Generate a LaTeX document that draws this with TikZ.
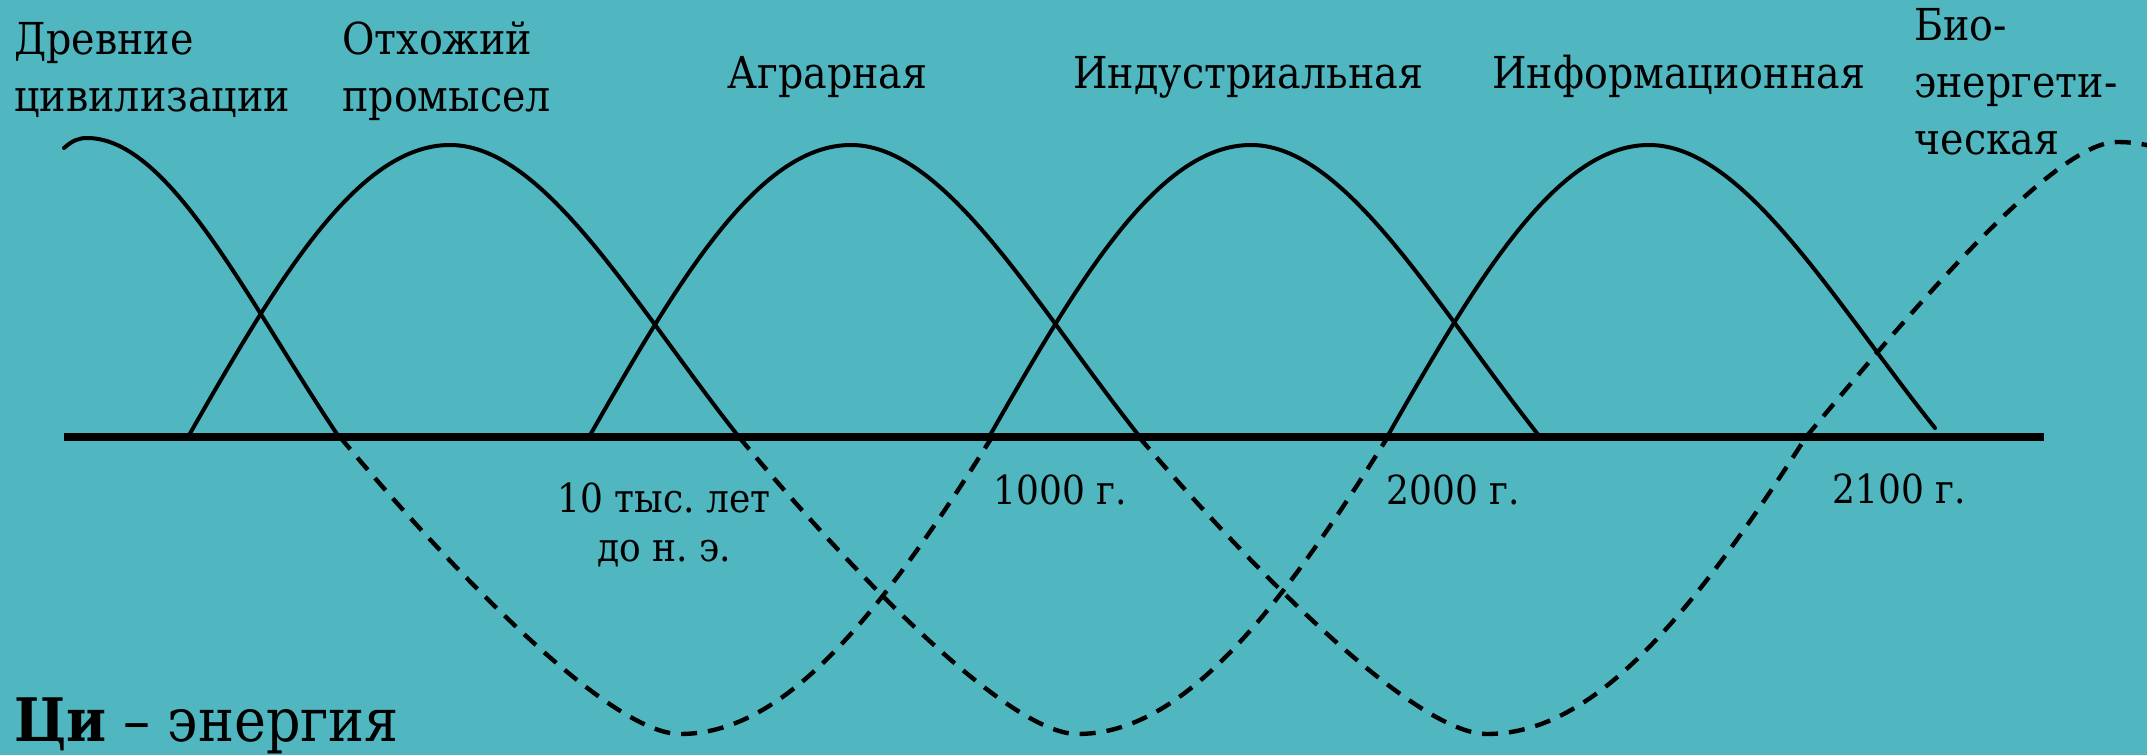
\documentclass[tikz,border=0pt]{standalone}
\usepackage{fontspec}
\setmainfont{DejaVu Serif Condensed}
\frenchspacing
\definecolor{bgteal}{RGB}{80,182,191}
\tikzset{
  hump/.style={line width=2pt, line cap=round, line join=round},
  trough/.style={line width=2.2pt, dash pattern=on 8pt off 5.5pt},
  axisline/.style={line width=4pt},
  toplabel/.style={anchor=base west, inner sep=0pt, font=\fontsize{22}{28.5}\selectfont},
  datelabel/.style={anchor=base west, inner sep=0pt, font=\fontsize{20}{25}\selectfont},
}
% solid hump: rises over 262, peak 292, falls over 289
\newcommand{\humpat}[1]{%
  \draw[hump, shift={(#1,0)}] (0,0) .. controls (87.5,153) and (168,292) .. (262,292)
     .. controls (357,292) and (447,131) .. (551,0);}
% dashed trough: falls over 340, depth 297, rises over 312
\newcommand{\troughat}[2]{%
  \draw[trough, shift={(#1,0)}, xscale=#2] (0,0) .. controls (110,-132) and (270,-297) .. (340,-297)
     .. controls (440,-297) and (532,-192) .. (652,0);}
\begin{document}
\begin{tikzpicture}[x=0.5pt, y=0.5pt]
  \fill[bgteal] (0,-318) rectangle (2147,437);
  \useasboundingbox (0,-318) rectangle (2147,437);
  \clip (0,-318) rectangle (2147,437);
  % solid humps
  \draw[hump] (64,289) .. controls (72,296) and (78,299) .. (87,299)
     .. controls (170,299) and (248,135) .. (339,0);
  \humpat{188}
  \humpat{589}
  \humpat{989}
  \draw[hump, shift={(1387,0)}] (0,0) .. controls (87.5,153) and (168,292) .. (262,292)
     .. controls (357,292) and (447,135) .. (548,9);
  % dashed troughs
  \troughat{340}{1.0}
  \troughat{739}{0.995}
  \draw[trough, shift={(1139,0)}, xscale=1.023] (0,0) .. controls (110,-132) and (270,-297) .. (340,-297)
     .. controls (440,-297) and (532,-192) .. (652,0);
  \draw[trough] (1806,0) .. controls (1907,121) and (2053,295) .. (2117,295)
     .. controls (2217,295) and (2309,192) .. (2429,0);
  % axis
  \draw[axisline] (64,0) -- (2044,0);
  % labels
  \node[toplabel] (anc) at (14,382) {\begin{tabular}[t]{@{}l@{}}Древние\\цивилизации\end{tabular}};
  \node[toplabel] (otx) at (342,382) {\begin{tabular}[t]{@{}l@{}}Отхожий\\промысел\end{tabular}};
  \node[toplabel] (agr) at (727,348) {Аграрная};
  \node[toplabel] (ind) at (1073,348) {Индустриальная};
  \node[toplabel] (inf) at (1492,348) {Информационная};
  \node[toplabel] (bio) at (1914,396) {\begin{tabular}[t]{@{}l@{}}Био-\\энергети-\\ческая\end{tabular}};
  \node[datelabel, anchor=base] (d10) at (664,-75) {\begin{tabular}[t]{@{}c@{}}10 тыс. лет\\до н. э.\end{tabular}};
  \node[datelabel] (d1000) at (993,-67) {1000 г.};
  \node[datelabel] (d2000) at (1386,-67) {2000 г.};
  \node[datelabel] (d2100) at (1832,-66) {2100 г.};
  \node[anchor=base west, inner sep=0pt, font=\fontsize{30}{36}\selectfont] (qi) at (14,-304) {\textbf{Ци} – энергия};
\end{tikzpicture}
\end{document}
